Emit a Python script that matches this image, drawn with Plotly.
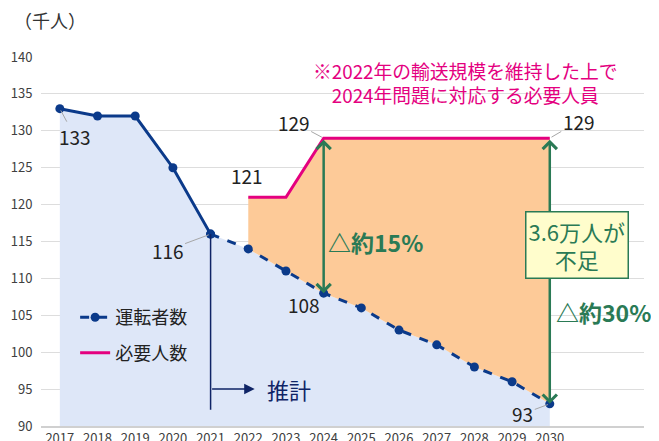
import plotly.graph_objects as go

years = [2017, 2018, 2019, 2020, 2021, 2022, 2023, 2024, 2025, 2026, 2027, 2028, 2029, 2030]
drivers = [133, 132, 132, 125, 116, 114, 111, 108, 106, 103, 101, 98, 96, 93]
req_years = [2022, 2023, 2024, 2025, 2026, 2027, 2028, 2029, 2030]
required = [121, 121, 129, 129, 129, 129, 129, 129, 129]
y_ticks = [90, 95, 100, 105, 110, 115, 120, 125, 130, 135, 140]

FONT = "Noto Sans CJK JP"
NAVY = "#0B3A8A"
DARKNAVY = "#0F2466"
PINK = "#E4007F"
GREEN = "#2A7A55"
BLUEFILL = "#DEE7F8"
ORANGE = "#FDCA98"

obs_n = years.index(2021) + 1
proj_years = years[obs_n - 1:]
proj_vals = drivers[obs_n - 1:]
d_req = [drivers[years.index(y)] for y in req_years]

fig = go.Figure()
# blue area under drivers
fig.add_trace(go.Scatter(x=years, y=drivers, fill="tozeroy", fillcolor=BLUEFILL,
                         line=dict(width=0), mode="lines", showlegend=False, hoverinfo="skip"))
# orange gap area
fig.add_trace(go.Scatter(x=req_years, y=d_req, mode="lines", line=dict(width=0),
                         showlegend=False, hoverinfo="skip"))
fig.add_trace(go.Scatter(x=req_years, y=required, mode="lines", fill="tonexty", fillcolor=ORANGE,
                         line=dict(color=PINK, width=3), showlegend=False))
# drivers observed (solid)
fig.add_trace(go.Scatter(x=years[:obs_n], y=drivers[:obs_n], mode="lines+markers",
                         line=dict(color=NAVY, width=3), marker=dict(size=9, color=NAVY),
                         showlegend=False))
# drivers projected (dashed)
fig.add_trace(go.Scatter(x=proj_years, y=proj_vals, mode="lines+markers",
                         line=dict(color=NAVY, width=3, dash="dash"), marker=dict(size=9, color=NAVY),
                         showlegend=False))
# legend entries
fig.add_trace(go.Scatter(x=[None], y=[None], mode="lines+markers", name="運転者数",
                         line=dict(color=NAVY, width=3, dash="dash"), marker=dict(size=9, color=NAVY),
                         legendgroup="a"))
fig.add_trace(go.Scatter(x=[None], y=[None], mode="lines", name="必要人数",
                         line=dict(color=PINK, width=3), legendgroup="b"))

ann = []
# unit label
ann.append(dict(xref="paper", yref="paper", x=-0.048, y=1.100, text="（千人）", showarrow=False,
                xanchor="left", yanchor="middle", font=dict(size=18, color="#333")))
# note
ann.append(dict(x=2027.77, y=136.6, text="※2022年の輸送規模を維持した上で<br>2024年問題に対応する必要人員",
                showarrow=False, font=dict(size=18.8, color=PINK), xanchor="center", yanchor="middle"))

LBL = dict(size=19, color="#222")
def label(x, y, text, ax, ay, arrow=True):
    ann.append(dict(x=x, y=y, text=text, showarrow=arrow, ax=ax, ay=ay, arrowhead=0,
                    arrowwidth=1, arrowcolor="#A6A6A6", font=LBL, standoff=2))

label(2017, drivers[0], "133", 15, 28)
label(2021, drivers[4], "116", -43, 16)
label(2024, required[2], "129", -30, -16)
label(2030, required[-1], "129", 29, -17)
label(2030, drivers[-1], "93", -27, 10)
ann.append(dict(x=2024, y=drivers[7], text="108", showarrow=False, xshift=-20, yshift=-11, font=LBL))
ann.append(dict(x=2022, y=required[0], text="121", showarrow=False, xshift=-1, yshift=22, font=LBL))

# green double arrows
for yr in (2024, 2030):
    top = required[req_years.index(yr)]
    bot = drivers[years.index(yr)]
    ann.append(dict(x=yr, y=bot, ax=yr, ay=top, axref="x", ayref="y", text="", showarrow=True,
                    arrowhead=4, startarrowhead=4, arrowside="end+start", arrowsize=1.1,
                    startarrowsize=1.1, arrowwidth=2.5, arrowcolor=GREEN))

ann.append(dict(x=2024.06, y=114.9, text="△約15%", showarrow=False, xanchor="left", yanchor="middle",
                font=dict(size=23, color=GREEN, weight="bold")))
ann.append(dict(x=2030.10, y=105.45, text="△約30%", showarrow=False, xanchor="left", yanchor="middle",
                font=dict(size=23, color=GREEN, weight="bold")))
ann.append(dict(x=2030.71, y=114.5, text="3.6万人が<br>不足", showarrow=False, xanchor="center",
                yanchor="middle", font=dict(size=22, color=GREEN), bgcolor="#FFFDCC",
                bordercolor=GREEN, borderwidth=1.5, borderpad=2))

# projection marker
ann.append(dict(x=2022.17, y=95, ax=2021, ay=95, axref="x", ayref="y", text="", showarrow=True,
                arrowhead=2, arrowsize=1.4, arrowwidth=1.5, arrowcolor=DARKNAVY))
ann.append(dict(x=2022.44, y=95, text="推計", showarrow=False, xanchor="left", yanchor="middle",
                font=dict(size=22, color=DARKNAVY)))

shapes = [dict(type="line", x0=2021, x1=2021, y0=92.2, y1=drivers[4], xref="x", yref="y",
               line=dict(color=DARKNAVY, width=1.5))]

# the page body adds an 8px offset, so the figure is 8px smaller than the window
fig.update_layout(
    width=651, height=433,
    margin=dict(l=33, r=15, t=49, b=15),
    paper_bgcolor="white", plot_bgcolor="white",
    font=dict(family=FONT, color="#404040"),
    showlegend=True,
    legend=dict(x=0.0566, y=0.344, xanchor="left", yanchor="top", bgcolor="rgba(0,0,0,0)",
                font=dict(size=18, color="#222"), traceorder="grouped", tracegroupgap=9),
    annotations=ann, shapes=shapes,
)
fig.update_xaxes(range=[2016.5, 2032.5], tickmode="array", tickvals=years,
                 ticktext=[str(y) for y in years], showgrid=False, zeroline=False,
                 showline=True, linecolor="#D0D0D0", linewidth=1.5,
                 tickfont=dict(size=13, color="#404040"), automargin=False, fixedrange=True)
fig.update_yaxes(range=[90, 140], tickmode="array", tickvals=y_ticks, showgrid=True,
                 gridcolor="#DDDDDD", gridwidth=1, zeroline=False,
                 ticks="outside", ticklen=5, tickcolor="rgba(0,0,0,0)",
                 tickfont=dict(size=13, color="#404040"), automargin=False, fixedrange=True)

fig.write_html("out.html")
